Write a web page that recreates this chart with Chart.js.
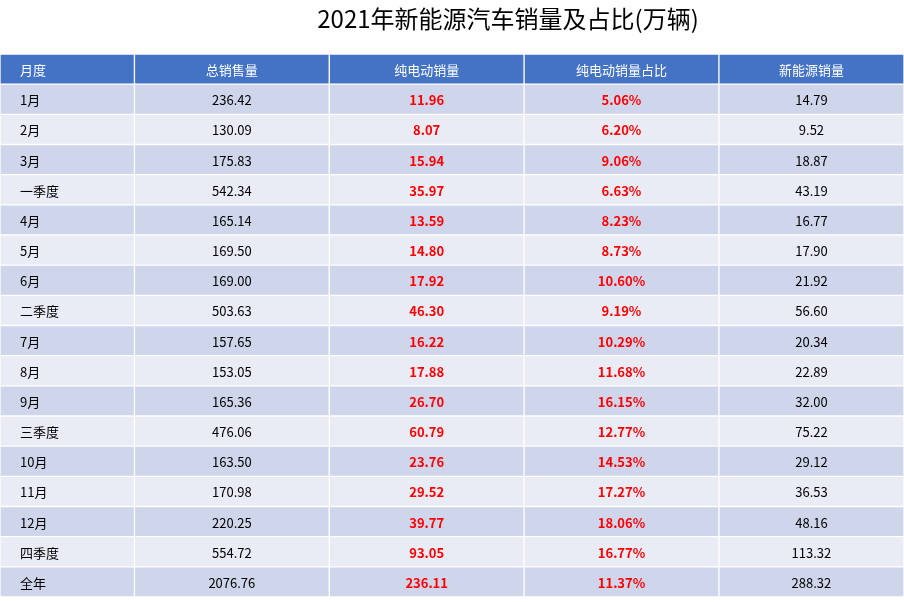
<!DOCTYPE html>
<html lang="zh">
<head>
<meta charset="UTF-8">
<title>2021年新能源汽车销量及占比</title>
<script src="https://cdn.jsdelivr.net/npm/chart.js@4.4.0/dist/chart.umd.min.js"></script>
<style>
  body { margin: 0; background: #fff; }
  .chart-container { width: 904px; height: 602px; }
</style>
</head>
<body>
<div class="chart-container"><canvas id="myChart"></canvas></div>
<script>
const headers = ['月度', '总销售量', '纯电动销量', '纯电动销量占比', '新能源销量'];
const periods = ['1月', '2月', '3月', '一季度', '4月', '5月', '6月', '二季度', '7月', '8月', '9月', '三季度', '10月', '11月', '12月', '四季度', '全年'];
const totalSales = ['236.42', '130.09', '175.83', '542.34', '165.14', '169.50', '169.00', '503.63', '157.65', '153.05', '165.36', '476.06', '163.50', '170.98', '220.25', '554.72', '2076.76'];
const bevSales = ['11.96', '8.07', '15.94', '35.97', '13.59', '14.80', '17.92', '46.30', '16.22', '17.88', '26.70', '60.79', '23.76', '29.52', '39.77', '93.05', '236.11'];
const bevShare = ['5.06%', '6.20%', '9.06%', '6.63%', '8.23%', '8.73%', '10.60%', '9.19%', '10.29%', '11.68%', '16.15%', '12.77%', '14.53%', '17.27%', '18.06%', '16.77%', '11.37%'];
const nevSales = ['14.79', '9.52', '18.87', '43.19', '16.77', '17.90', '21.92', '56.60', '20.34', '22.89', '32.00', '75.22', '29.12', '36.53', '48.16', '113.32', '288.32'];

// column edges in table units
const colEdges = [0, 0.69, 1.69, 2.69, 3.69, 4.64];

const columns = [periods, totalSales, bevSales, bevShare, nevSales];
const rowLabels = ['header'].concat(periods);

function rowColor(i) {
  if (i === 0) return '#4472C4';
  return i % 2 === 1 ? '#CFD5EA' : '#E9EBF5';
}

const datasets = columns.map((col, c) => ({
  label: headers[c],
  data: rowLabels.map(() => [colEdges[c], colEdges[c + 1]]),
  cellText: [headers[c]].concat(col),
  backgroundColor: rowLabels.map((r, i) => rowColor(i)),
  borderColor: '#ffffff',
  borderWidth: 1,
  borderSkipped: false,
  grouped: false,
  barPercentage: 1,
  categoryPercentage: 1
}));

const cellTextPlugin = {
  id: 'cellText',
  afterDatasetsDraw(chart) {
    const ctx = chart.ctx;
    ctx.save();
    ctx.textBaseline = 'middle';
    chart.data.datasets.forEach((ds, c) => {
      chart.getDatasetMeta(c).data.forEach((bar, i) => {
        const left = Math.min(bar.x, bar.base);
        const right = Math.max(bar.x, bar.base);
        let color = '#000000';
        let weight = 'normal';
        if (i === 0) color = '#ffffff';
        else if (c === 2 || c === 3) { color = '#FF0000'; weight = 'bold'; }
        ctx.fillStyle = color;
        ctx.font = weight + ' 13px "Noto Sans CJK SC", "Noto Sans", sans-serif';
        if (c === 0) {
          ctx.textAlign = 'left';
          ctx.fillText(ds.cellText[i], left + 20, bar.y + 1);
        } else {
          ctx.textAlign = 'center';
          ctx.fillText(ds.cellText[i], (left + right) / 2, bar.y + 1);
        }
      });
    });
    ctx.restore();
  }
};

// title is drawn a little right of centre, as in the original slide
const titlePlugin = {
  id: 'offsetTitle',
  afterDraw(chart) {
    const ctx = chart.ctx;
    ctx.save();
    ctx.fillStyle = '#000000';
    ctx.font = 'normal 24px "Noto Sans CJK SC", sans-serif';
    ctx.textAlign = 'center';
    ctx.textBaseline = 'middle';
    ctx.fillText('2021年新能源汽车销量及占比(万辆)', 508, 19);
    ctx.restore();
  }
};

const config = {
  type: 'bar',
  data: { labels: rowLabels, datasets },
  options: {
    indexAxis: 'y',
    responsive: true,
    maintainAspectRatio: false,
    animation: false,
    layout: { padding: { left: 0, right: 0, top: 54, bottom: 5 } },
    scales: {
      x: { display: false, min: colEdges[0], max: colEdges[colEdges.length - 1] },
      y: { display: false }
    },
    plugins: {
      legend: { display: false },
      tooltip: { enabled: false },
      title: { display: false }
    }
  },
  plugins: [cellTextPlugin, titlePlugin]
};

const myChart = new Chart(document.getElementById('myChart').getContext('2d'), config);
</script>
</body>
</html>
